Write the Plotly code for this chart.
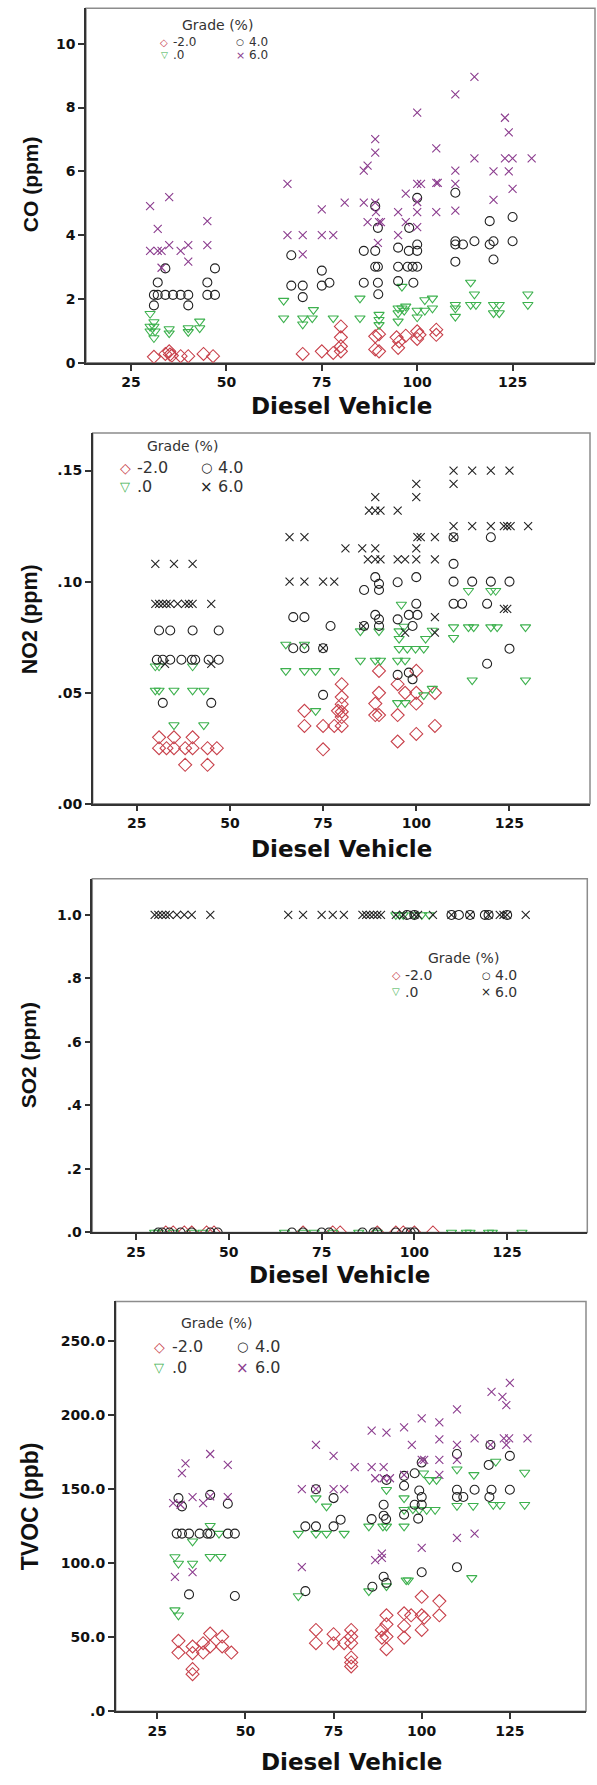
import plotly.graph_objects as go

# ---------------- data ----------------
x_ticks = [25, 50, 75, 100, 125]
grade_labels = ["-2.0", ".0", "4.0", "6.0"]

# CO (ppm)
co_m2_x = [31, 34, 35, 35.2, 35.7, 38, 40, 44, 46.5,
           70, 75, 78, 80, 80, 80, 80,
           89, 90, 89, 90, 94.6, 95.3, 95, 97,
           100, 100, 100.6, 105, 105]
co_m2_y = [0.19, 0.28, 0.36, 0.26, 0.23, 0.21, 0.21, 0.28, 0.21,
           0.28, 0.36, 0.31, 1.14, 0.80, 0.52, 0.36,
           0.83, 0.90, 0.42, 0.36, 0.80, 0.67, 0.47, 0.85,
           0.99, 0.75, 0.88, 1.04, 0.88]
co_0_x = [30, 31, 30, 31, 30, 31.3, 31, 35, 35, 40, 40, 43, 43,
          65, 65, 70, 72.5, 70, 72.8, 78,
          85, 85, 90, 90, 90,
          95, 96, 97, 95, 95, 96, 96.6,
          100, 102, 100, 102, 104, 104,
          110, 110, 110, 114, 115, 114, 115.4,
          120, 121.5, 120, 121.5, 129, 129]
co_0_y = [1.54, 1.28, 1.14, 1.14, 0.99, 0.99, 0.78, 1.06, 0.93, 1.09, 0.97, 1.09, 1.30,
          1.95, 1.40, 1.40, 1.40, 1.21, 1.66, 1.40,
          2.02, 1.40, 1.51, 1.35, 1.19,
          1.71, 1.71, 1.77, 1.56, 1.30, 2.39, 1.64,
          1.64, 1.64, 1.43, 1.97, 2.02, 1.71,
          1.82, 1.71, 1.45, 2.52, 2.15, 1.82, 1.82,
          1.82, 1.82, 1.56, 1.56, 2.15, 1.82]
co_4_x = [31, 32, 31, 32, 34, 36, 38, 40, 45, 47, 34, 40, 45, 47,
          67, 67, 70, 70, 75, 75, 77,
          86, 89, 86, 89.7, 89, 89.7, 89.8, 89, 89.7,
          95, 95, 97.5, 95, 97.9, 97.8, 99, 100, 100, 100, 98.8, 100,
          110, 110, 110, 112, 115, 110, 119, 119, 120, 120, 125, 125]
co_4_y = [1.80, 2.52, 2.13, 2.13, 2.13, 2.13, 2.13, 2.13, 2.13, 2.13, 2.96, 1.80, 2.52, 2.96,
          3.37, 2.42, 2.42, 2.06, 2.89, 2.42, 2.51,
          3.51, 3.51, 2.51, 2.51, 3.01, 3.01, 2.15, 4.91, 4.23,
          3.61, 3.01, 3.01, 2.56, 4.23, 3.51, 2.51, 5.17, 3.71, 3.51, 3.01, 3.01,
          5.33, 3.81, 3.71, 3.71, 3.81, 3.17, 4.44, 3.71, 3.81, 3.24, 4.57, 3.81]
co_6_x = [30, 32, 35, 30, 32, 33, 33, 35, 38, 40, 40, 45, 45,
          66, 66, 70, 75, 78, 70, 75, 81,
          86, 89, 87, 86, 89, 89, 87, 90, 90.5, 89.2, 89.7,
          95, 95, 97, 97, 100, 100, 101, 100, 100, 100,
          105, 105, 105.4, 105, 110, 110, 110, 110, 115, 115,
          120, 120, 123, 124, 123, 125, 124, 125, 130]
co_6_y = [4.91, 4.20, 5.19, 3.51, 3.51, 3.51, 2.98, 3.69, 3.51, 3.69, 3.17, 4.44, 3.69,
          5.61, 4.00, 4.00, 4.00, 4.00, 3.40, 4.81, 5.02,
          5.02, 5.02, 6.18, 6.02, 7.01, 6.59, 4.41, 4.41, 4.41, 4.72, 3.76,
          4.72, 4.00, 5.30, 4.41, 7.84, 5.61, 5.61, 5.04, 4.72, 4.25,
          6.72, 5.64, 5.64, 4.72, 8.41, 6.02, 5.61, 4.77, 8.96, 6.41,
          6.00, 5.11, 7.68, 7.22, 6.41, 6.41, 6.00, 5.45, 6.41]

# NO2 (ppm)
no2_m2_x = [31, 35, 40, 31, 33, 35, 38, 40, 44, 46.5, 38, 44,
            70, 70, 75, 78, 80, 75, 80, 80, 80, 80, 80, 79,
            90, 90, 89, 89, 90, 95, 95, 95, 97,
            100, 100, 100, 100, 105, 105]
no2_m2_y = [0.0299, 0.0299, 0.0299, 0.025, 0.025, 0.025, 0.025, 0.025, 0.025, 0.025, 0.0175, 0.0175,
            0.0418, 0.035, 0.035, 0.035, 0.035, 0.0245, 0.0538, 0.048, 0.0448, 0.0414, 0.039, 0.0418,
            0.0598, 0.0499, 0.0451, 0.0399, 0.0399, 0.0538, 0.0399, 0.028, 0.0499,
            0.0598, 0.0499, 0.0451, 0.0314, 0.0499, 0.035]
no2_0_x = [30, 31, 40, 30, 31, 35, 40, 43, 35, 43,
           65, 70, 65, 70, 73, 78, 73,
           85, 90, 85, 89, 90.4, 95, 97,
           96, 95.4, 96.7, 95.4, 95.4, 97.6, 99.8, 102, 102.5, 104.3, 95, 97, 102, 104.3,
           110, 114, 115.4, 120, 121.7, 129.3, 110, 114, 120, 121.3, 115, 129.3]
no2_0_y = [0.0619, 0.0619, 0.0619, 0.051, 0.051, 0.051, 0.051, 0.051, 0.0354, 0.0354,
           0.0717, 0.0717, 0.0598, 0.0598, 0.0598, 0.0598, 0.0418,
           0.0777, 0.0777, 0.0645, 0.0645, 0.0645, 0.0645, 0.0645,
           0.0897, 0.0777, 0.0798, 0.0743, 0.0698, 0.0698, 0.0698, 0.0698, 0.0743, 0.078, 0.0454, 0.0454, 0.0489, 0.0518,
           0.0795, 0.0795, 0.0795, 0.0795, 0.0795, 0.0795, 0.0747, 0.0959, 0.0959, 0.0959, 0.0556, 0.0556]
no2_4_x = [31, 34, 40, 47,
           30.4, 32, 34, 37, 39.8, 40.7, 44.3, 47, 32, 45,
           67, 70, 67, 70, 75, 77, 75,
           86, 86, 90, 89, 90, 95, 100, 89, 90, 90, 95, 98, 100.3, 99, 100, 95, 98, 99,
           110, 110, 115, 120, 125, 110, 112.3, 119, 120, 110, 125, 119]
no2_4_y = [0.078, 0.078, 0.078, 0.078,
           0.0648, 0.0648, 0.0648, 0.0648, 0.0648, 0.0648, 0.0648, 0.0648, 0.0454, 0.0454,
           0.084, 0.084, 0.070, 0.070, 0.070, 0.080, 0.049,
           0.080, 0.0962, 0.0962, 0.102, 0.099, 0.0997, 0.102, 0.085, 0.083, 0.080, 0.083, 0.085, 0.085, 0.080, 0.090, 0.058, 0.059, 0.056,
           0.108, 0.100, 0.100, 0.100, 0.100, 0.090, 0.090, 0.090, 0.120, 0.120, 0.0698, 0.063]
no2_6_x = [30, 35, 40, 30, 31, 32, 33, 34, 36, 38, 39, 40, 45, 32.6, 45,
           66, 70, 66, 70, 75, 78, 75, 81, 85.5, 85.8,
           89, 100, 87, 89, 90.4, 95, 97, 100, 105,
           89, 100, 87.3, 89, 90.4, 95, 100, 110,
           100.3, 101.2, 105, 110,
           110, 115, 120, 125, 110, 115, 120, 123.5, 124.4, 125.3, 130,
           105, 123.5, 124.4, 97, 105]
no2_6_y = [0.108, 0.108, 0.108, 0.090, 0.090, 0.090, 0.090, 0.090, 0.090, 0.090, 0.090, 0.090, 0.090, 0.063, 0.063,
           0.120, 0.120, 0.100, 0.100, 0.100, 0.100, 0.070, 0.115, 0.115, 0.080,
           0.115, 0.115, 0.110, 0.110, 0.110, 0.110, 0.110, 0.110, 0.110,
           0.138, 0.138, 0.132, 0.132, 0.132, 0.132, 0.144, 0.144,
           0.120, 0.120, 0.120, 0.120,
           0.150, 0.150, 0.150, 0.150, 0.125, 0.125, 0.125, 0.125, 0.125, 0.125, 0.125,
           0.084, 0.0877, 0.0877, 0.077, 0.077]

# SO2 (ppm)
so2_m2_x = [33, 35, 38, 40, 44, 46, 70, 78, 80, 90, 95, 97, 100, 105]
so2_m2_y = [0, 0, 0, 0, 0, 0, 0, 0, 0, 0, 0, 0, 0, 0]
so2_0_x = [30, 31, 35, 40, 43, 65, 70, 73, 78, 85, 90, 110, 114, 115, 120, 121, 129,
           95, 96, 97, 100, 102, 104]
so2_0_y = [0, 0, 0, 0, 0, 0, 0, 0, 0, 0, 0, 0, 0, 0, 0, 0, 0,
           1, 1, 1, 1, 1, 1]
so2_4_x = [31, 32, 34, 37, 40, 45, 47, 67, 70, 75, 77, 86, 89, 90, 95, 98, 99, 100,
           98, 100, 110, 112, 115, 119, 120, 125]
so2_4_y = [0, 0, 0, 0, 0, 0, 0, 0, 0, 0, 0, 0, 0, 0, 0, 0, 0, 0,
           1, 1, 1, 1, 1, 1, 1, 1]
so2_6_x = [30, 31, 32, 33, 34, 36, 38, 40, 45, 66, 70, 75, 78, 81, 86, 87, 88, 89, 90, 91,
           95, 97, 100, 101, 105, 110, 115, 120, 123, 124, 125, 130]
so2_6_y = [1, 1, 1, 1, 1, 1, 1, 1, 1, 1, 1, 1, 1, 1, 1, 1, 1, 1, 1, 1,
           1, 1, 1, 1, 1, 1, 1, 1, 1, 1, 1, 1]

# TVOC (ppb)
tvoc_m2_x = [31, 35, 38, 40, 43.4, 31, 35, 38, 40, 43.4, 46, 35, 35,
             70, 75, 80, 70, 75, 78, 80, 80, 80, 80, 80,
             90, 95, 97, 100, 90, 95, 88.7, 90, 88.7, 95, 90,
             100, 105, 105, 100.7, 100]
tvoc_m2_y = [47.6, 43.8, 46.0, 52.5, 50.5, 39.7, 39.3, 39.7, 43.8, 43.8, 39.7, 28.5, 25.1,
             55.0, 52.1, 55.0, 46.0, 46.0, 46.0, 46.0, 50.5, 36.4, 33.0, 30.3,
             64.9, 66.2, 64.9, 64.9, 58.8, 57.7, 55.0, 50.5, 49.8, 49.8, 42.0,
             77.4, 74.5, 64.9, 63.3, 55.0]
tvoc_0_x = [30, 31, 35, 35, 40, 42.5, 40, 43, 30, 31,
            65, 70, 73, 78, 70, 73, 65,
            85, 89, 90, 90, 95, 95, 95, 97.5, 99.3, 101.4, 103.8, 95.6, 96.2, 85, 90,
            100.5, 102.2, 104.2,
            110, 114.8, 110, 114.6, 120.3, 122.2, 121, 129.2, 129.2, 114.2]
tvoc_0_y = [104.3, 99.9, 99.9, 114.9, 125.4, 120.1, 104.4, 104.4, 68.4, 64.9,
            120.1, 120.1, 120.1, 120.1, 144.1, 138.5, 77.9,
            125.0, 125.0, 125.0, 149.7, 125.0, 144.1, 136.2, 136.6, 136.2, 136.2, 136.2, 88.6, 88.6, 81.2, 84.6,
            160.9, 156.4, 156.4,
            163.6, 159.8, 138.9, 138.9, 139.6, 139.6, 168.8, 161.4, 139.6, 90.2]
tvoc_4_x = [31, 32, 40, 45, 30.5, 32, 34, 37, 39.2, 40, 45, 47, 34, 47,
            67, 70, 75, 77, 70, 75, 67,
            85.8, 89.2, 89.9, 89.2, 90, 95, 95, 98, 99.3, 100, 98, 100, 95, 99, 100, 89.2, 90, 86, 100,
            110, 110, 110, 111.8, 115, 119.8, 119.2, 125, 119, 125, 119.5, 110]
tvoc_4_y = [144.1, 138.5, 146.3, 140.3, 120.1, 120.1, 120.1, 120.1, 120.1, 120.1, 120.1, 120.1, 79.0, 77.9,
            125.0, 125.0, 125.0, 129.5, 150.1, 144.1, 81.2,
            129.9, 132.2, 129.9, 139.6, 156.4, 159.1, 152.4, 160.9, 149.2, 144.8, 139.6, 139.6, 132.9, 130.2, 168.1, 90.9, 86.8, 84.2, 94.0,
            173.9, 149.7, 144.8, 144.8, 149.7, 149.7, 144.8, 149.7, 166.5, 172.6, 180.0, 97.4]
tvoc_6_x = [32, 33, 40, 45, 29.5, 31.6, 35, 38, 40, 45, 30, 35,
            66, 66, 70, 75, 75, 78, 81, 70,
            85.8, 85.8, 89.2, 90, 86.8, 89.2, 91, 86.8, 88.7, 88.7,
            95, 95, 97.2, 100, 100, 100.7, 100,
            105, 105, 105, 105, 110, 110, 110, 110, 115, 115,
            119.8, 122.9, 124, 125, 119.5, 123.3, 124.8, 124, 130]
tvoc_6_y = [160.9, 167.6, 173.9, 166.5, 140.7, 139.6, 144.8, 140.7, 145.2, 144.8, 90.9, 94.0,
            150.1, 97.4, 180.0, 172.6, 150.1, 150.1, 165.0, 150.1,
            189.7, 165.0, 165.0, 188.4, 157.5, 157.5, 157.5, 102.1, 106.6, 103.7,
            191.9, 159.8, 180.0, 197.9, 169.9, 169.9, 110.4,
            195.2, 183.8, 169.9, 159.8, 204.0, 180.0, 169.9, 117.2, 184.5, 120.1,
            215.9, 212.5, 206.9, 221.9, 180.0, 184.5, 184.5, 180.0, 184.5]

# axis tick labels
co_ticks = [0, 2, 4, 6, 8, 10]
co_ticktext = ["0", "2", "4", "6", "8", "10"]
no2_ticks = [0, 0.05, 0.10, 0.15]
no2_ticktext = [".00", ".05", ".10", ".15"]
so2_ticks = [0, 0.2, 0.4, 0.6, 0.8, 1.0]
so2_ticktext = [".0", ".2", ".4", ".6", ".8", "1.0"]
tvoc_ticks = [0, 50, 100, 150, 200, 250]
tvoc_ticktext = [".0", "50.0", "100.0", "150.0", "200.0", "250.0"]

# ---------------- styling / layout ----------------
W, H = 597, 1785
RED, GREEN, BLACK, PURPLE = "#C8414B", "#3DB14E", "#222222", "#8B3C8E"
XRANGE = [13.2, 146.6]

panels = [
    dict(name="CO (ppm)", l=86, r=595, t=8.3, b=364.5, yr=[0, 11.11],
         tv=co_ticks, tt=co_ticktext, x6=PURPLE,
         data=[(co_m2_x, co_m2_y), (co_0_x, co_0_y), (co_4_x, co_4_y), (co_6_x, co_6_y)],
         ytitle=(30, 185, 21), xtitle=(341, 408),
         leg=dict(title=(217, 25), r1=42.5, r2=55.5, c1=164, c2=240, gap=8, fs=12, gsz=9)),
    dict(name="NO2 (ppm)", l=92.7, r=590, t=435, b=807.3, yr=[0, 0.1669],
         tv=no2_ticks, tt=no2_ticktext, x6=BLACK,
         data=[(no2_m2_x, no2_m2_y), (no2_0_x, no2_0_y), (no2_4_x, no2_4_y), (no2_6_x, no2_6_y)],
         ytitle=(30, 622, 21.5), xtitle=(341, 853),
         leg=dict(title=(182.5, 448), r1=470, r2=489, c1=125, c2=206, gap=11, fs=16, gsz=13)),
    dict(name="SO2 (ppm)", l=92.3, r=587.3, t=882.7, b=1238, yr=[0, 1.114],
         tv=so2_ticks, tt=so2_ticktext, x6=BLACK,
         data=[(so2_m2_x, so2_m2_y), (so2_0_x, so2_0_y), (so2_4_x, so2_4_y), (so2_6_x, so2_6_y)],
         ytitle=(28, 1060, 21), xtitle=(340, 1281),
         leg=dict(title=(463, 962), r1=979.5, r2=996, c1=396, c2=486, gap=8, fs=14, gsz=10)),
    dict(name="TVOC (ppb)", l=115.7, r=586, t=1307.3, b=1719, yr=[0, 277],
         tv=tvoc_ticks, tt=tvoc_ticktext, x6=PURPLE,
         data=[(tvoc_m2_x, tvoc_m2_y), (tvoc_0_x, tvoc_0_y), (tvoc_4_x, tvoc_4_y), (tvoc_6_x, tvoc_6_y)],
         ytitle=(30, 1513, 23), xtitle=(351, 1770),
         leg=dict(title=(216, 1329), r1=1353, r2=1374, c1=159, c2=242, gap=12, fs=16, gsz=13)),
]

TICKFONT = dict(family="DejaVu Sans", size=14, color="#111111", weight="bold")

fig = go.Figure()
layout = dict(width=W, height=H, margin=dict(l=0, r=0, t=0, b=0),
              paper_bgcolor="white", plot_bgcolor="white", showlegend=False)
shapes, annotations = [], []


def px(xp, yp):
    return xp / W, 1 - yp / H


for i, p in enumerate(panels):
    n = "" if i == 0 else str(i + 1)
    xa, ya = "x" + n, "y" + n
    layout["xaxis" + n] = dict(domain=[p["l"] / W, p["r"] / W], anchor=ya, range=XRANGE,
                               tickvals=x_ticks, ticks="outside", ticklen=6, tickwidth=1.5,
                               tickcolor="#333333", showline=True, linecolor="#333333",
                               linewidth=1.5, showgrid=False, zeroline=False, tickfont=TICKFONT)
    layout["yaxis" + n] = dict(domain=[1 - p["b"] / H, 1 - p["t"] / H], anchor=xa, range=p["yr"],
                               tickvals=p["tv"], ticktext=p["tt"], ticks="outside", ticklen=6,
                               tickwidth=1.5, tickcolor="#333333", showline=True,
                               linecolor="#333333", linewidth=1.5, showgrid=False,
                               zeroline=False, tickfont=TICKFONT)
    shapes.append(dict(type="rect", xref=xa + " domain", yref=ya + " domain", x0=0, x1=1,
                       y0=0, y1=1, line=dict(color="#8c8c8c", width=1.5), layer="below"))

    styles = [("diamond-open", 10, RED), ("triangle-down-open", 9, GREEN),
              ("circle-open", 9, BLACK), ("x-thin-open", 8, p["x6"])]
    for (xs, ys), (sym, size, col), lab in zip(p["data"], styles, grade_labels):
        fig.add_trace(go.Scatter(x=xs, y=ys, mode="markers", name=lab, xaxis=xa, yaxis=ya,
                                 marker=dict(symbol=sym, size=size, color=col,
                                             line=dict(width=1.1, color=col))))

    # axis titles
    tx, ty, tfs = p["ytitle"]
    ax_, ay_ = px(tx, ty)
    annotations.append(dict(text=p["name"], x=ax_, y=ay_, xref="paper", yref="paper",
                            showarrow=False, textangle=-90, xanchor="center", yanchor="middle",
                            font=dict(family="Liberation Sans", size=tfs, color="#111111",
                                      weight="bold")))
    bx, by = px(*p["xtitle"])
    annotations.append(dict(text="Diesel Vehicle", x=bx, y=by, xref="paper", yref="paper",
                            showarrow=False, xanchor="center", yanchor="middle",
                            font=dict(family="DejaVu Sans", size=23, color="#111111",
                                      weight="bold")))

    # legend "Grade (%)"
    lg = p["leg"]
    gx, gy = px(*lg["title"])
    annotations.append(dict(text="Grade (%)", x=gx, y=gy, xref="paper", yref="paper",
                            showarrow=False, xanchor="center", yanchor="middle",
                            font=dict(family="DejaVu Sans", size=14, color="#333333")))
    g = lg["gsz"]
    entries = [("◇", RED, lg["c1"], lg["r1"], grade_labels[0], g + 1),
               ("▽", GREEN, lg["c1"], lg["r2"], grade_labels[1], g),
               ("○", BLACK, lg["c2"], lg["r1"], grade_labels[2], g),
               ("×", p["x6"], lg["c2"], lg["r2"], grade_labels[3], g + 2)]
    for glyph, col, cx, cy, lab, gs in entries:
        gx, gy = px(cx, cy)
        annotations.append(dict(text=glyph, x=gx, y=gy, xref="paper", yref="paper",
                                showarrow=False, xanchor="center", yanchor="middle",
                                borderpad=0, font=dict(family="DejaVu Sans", size=gs, color=col)))
        lx, ly = px(cx + lg["gap"], cy)
        annotations.append(dict(text=lab, x=lx, y=ly, xref="paper", yref="paper",
                                showarrow=False, xanchor="left", yanchor="middle", borderpad=0,
                                font=dict(family="DejaVu Sans", size=lg["fs"], color="#333333")))

layout["shapes"] = shapes
layout["annotations"] = annotations
fig.update_layout(**layout)
fig.write_html("out.html")
